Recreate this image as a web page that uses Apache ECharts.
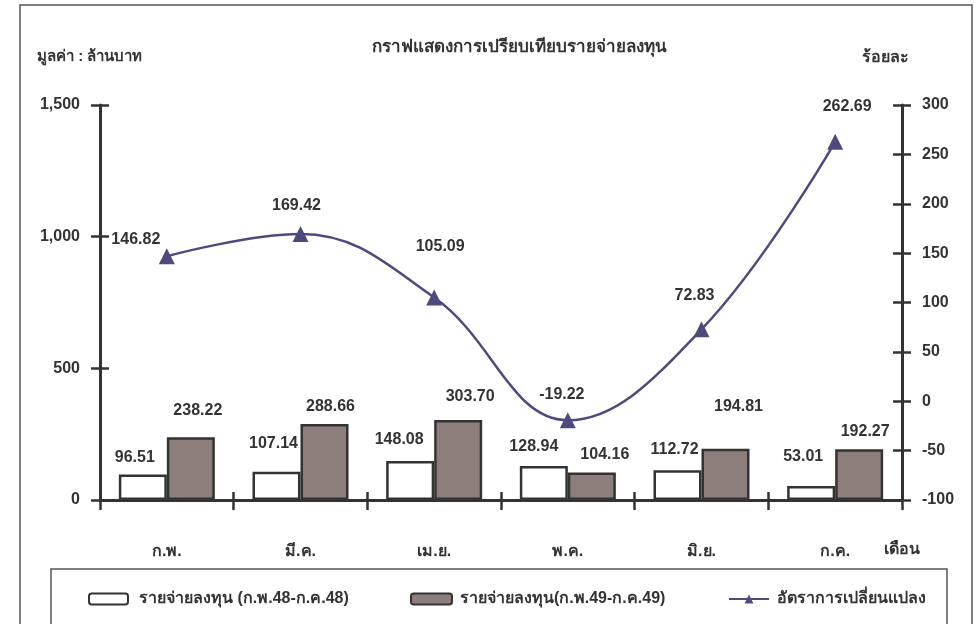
<!DOCTYPE html>
<html>
<head>
<meta charset="utf-8">
<script src="https://cdn.jsdelivr.net/npm/echarts@6/dist/echarts.min.js"></script>
<style>html,body{margin:0;padding:0;background:#fff}#c{width:979px;height:624px}</style>
</head>
<body>
<div id="c"></div>
<script>
const categories = ['ก.พ.', 'มี.ค.', 'เม.ย.', 'พ.ค.', 'มิ.ย.', 'ก.ค.'];
const spend48 = [96.51, 107.14, 148.08, 128.94, 112.72, 53.01];
const spend49 = [238.22, 288.66, 303.70, 104.16, 194.81, 192.27];
const changeRate = [146.82, 169.42, 105.09, -19.22, 72.83, 262.69];
const seriesNames = ['รายจ่ายลงทุน (ก.พ.48-ก.ค.48)', 'รายจ่ายลงทุน(ก.พ.49-ก.ค.49)', 'อัตราการเปลี่ยนแปลง'];
const titleText = 'กราฟแสดงการเปรียบเทียบรายจ่ายลงทุน';
const leftAxisName = 'มูลค่า : ล้านบาท';
const rightAxisName = 'ร้อยละ';
const xAxisName = 'เดือน';

// label placement tweaks (style only)
const off48 = [[-8,-9],[-3,-20],[-11,-13],[-10,-11],[-3,-13],[-8,-21]];
const off49 = [[7,-19],[6,-9],[12,-15],[13,-10],[13,-34],[6,-10]];
const offLine = [[-31,-17],[-4,-28],[6,-51],[-6,-26],[-7,-34],[12,-35]];

const FONT = "'Liberation Sans Narrow', 'Liberation Sans', 'Noto Sans', sans-serif";
const TXT = '#333333';
const lineColor = '#4f4a7e';
const grayBar = '#8c7f7b';

const chart = echarts.init(document.getElementById('c'), null, {renderer: 'canvas'});
const lbl = {fontFamily: FONT, fontWeight: 'bold', fontSize: 16, color: TXT};
const tickStyle = {color: TXT, width: 2.5};
const hiddenLine = {show: true, onZero: false, lineStyle: {color: 'rgba(0,0,0,0)', width: 0}};

const option = {
  animation: false,
  grid: {left: 100, right: 77, top: 105, bottom: 124, containLabel: false},
  xAxis: [
    {type: 'category', data: categories,
     axisLine: {onZero: false, lineStyle: {color: TXT, width: 3}},
     axisTick: {show: true, length: 10, lineStyle: tickStyle},
     axisLabel: {...lbl, margin: 44},
     splitLine: {show: false}},
    {type: 'category', data: categories, position: 'bottom', offset: 0,
     axisLine: hiddenLine,
     axisTick: {show: true, inside: true, length: 8, lineStyle: tickStyle},
     axisLabel: {show: false}, splitLine: {show: false}}
  ],
  yAxis: [
    {type: 'value', min: 0, max: 1500, interval: 500, position: 'left',
     axisLine: {show: true, lineStyle: {color: TXT, width: 3}},
     axisTick: {show: true, length: 9, lineStyle: tickStyle},
     axisLabel: {...lbl, margin: 20, padding: [6, 0, 0, 0], formatter: v => v.toLocaleString('en-US')},
     splitLine: {show: false}},
    {type: 'value', min: -100, max: 300, interval: 50, position: 'right',
     axisLine: {show: true, lineStyle: {color: TXT, width: 3}},
     axisTick: {show: true, length: 9, lineStyle: tickStyle},
     axisLabel: {...lbl, margin: 20, padding: [6, 0, 0, 0]},
     splitLine: {show: false}},
    {type: 'value', min: 0, max: 1500, interval: 500, position: 'left', offset: 0,
     axisLine: hiddenLine,
     axisTick: {show: true, inside: true, length: 9, lineStyle: tickStyle},
     axisLabel: {show: false}, splitLine: {show: false}},
    {type: 'value', min: -100, max: 300, interval: 50, position: 'right', offset: 0,
     axisLine: hiddenLine,
     axisTick: {show: true, inside: true, length: 9, lineStyle: tickStyle},
     axisLabel: {show: false}, splitLine: {show: false}}
  ],
  legend: [
    {data: [seriesNames[0]], left: 83, top: 586, itemWidth: 39, itemHeight: 11, itemGap: 0, textStyle: {...lbl, fontSize: 16, padding: [0, 0, 0, 6]}},
    {data: [seriesNames[1]], left: 405, top: 586, itemWidth: 41, itemHeight: 11, itemGap: 0, textStyle: {...lbl, fontSize: 16, padding: [0, 0, 0, 3]}},
    {data: [seriesNames[2]], left: 723, top: 586, itemWidth: 40, itemHeight: 11, itemGap: 0, textStyle: {...lbl, fontSize: 16, padding: [0, 0, 0, 3]}}
  ],
  graphic: [
    {type: 'rect', shape: {x: 20, y: 5, width: 952, height: 640}, style: {fill: 'none', stroke: '#555', lineWidth: 1.5}, silent: true},
    {type: 'rect', shape: {x: 51, y: 569, width: 896, height: 80}, style: {fill: 'none', stroke: '#555', lineWidth: 1.5}, silent: true},
    {type: 'text', left: 372, top: 39, style: {text: titleText, fill: TXT, font: 'bold 17px ' + FONT}},
    {type: 'text', left: 37, top: 49, style: {text: leftAxisName, fill: TXT, font: 'bold 15px ' + FONT}},
    {type: 'text', left: 862, top: 50, style: {text: rightAxisName, fill: TXT, font: 'bold 16px ' + FONT}},
    {type: 'text', left: 884, top: 542, style: {text: xAxisName, fill: TXT, font: 'bold 16px ' + FONT}}
  ],
  series: [
    {name: seriesNames[0], type: 'bar', yAxisIndex: 0, barWidth: 48, barGap: '0%',
     itemStyle: {color: '#ffffff', borderColor: TXT, borderWidth: 2.5},
     label: {show: true, position: 'top', distance: 0, ...lbl},
     data: spend48.map((v, i) => ({value: v, label: {offset: off48[i], formatter: v.toFixed(2)}}))},
    {name: seriesNames[1], type: 'bar', yAxisIndex: 0, barWidth: 48,
     itemStyle: {color: grayBar, borderColor: TXT, borderWidth: 2.5},
     label: {show: true, position: 'top', distance: 0, ...lbl},
     data: spend49.map((v, i) => ({value: v, label: {offset: off49[i], formatter: v.toFixed(2)}}))},
    {name: seriesNames[2], type: 'line', yAxisIndex: 1, smooth: 0.4,
     symbol: 'triangle', symbolSize: 16,
     lineStyle: {color: lineColor, width: 2.5},
     itemStyle: {color: lineColor},
     label: {show: true, position: 'inside', ...lbl},
     data: changeRate.map((v, i) => ({value: v, label: {offset: offLine[i], formatter: v.toFixed(2)}}))}
  ]
};
chart.setOption(option);
</script>
</body>
</html>
